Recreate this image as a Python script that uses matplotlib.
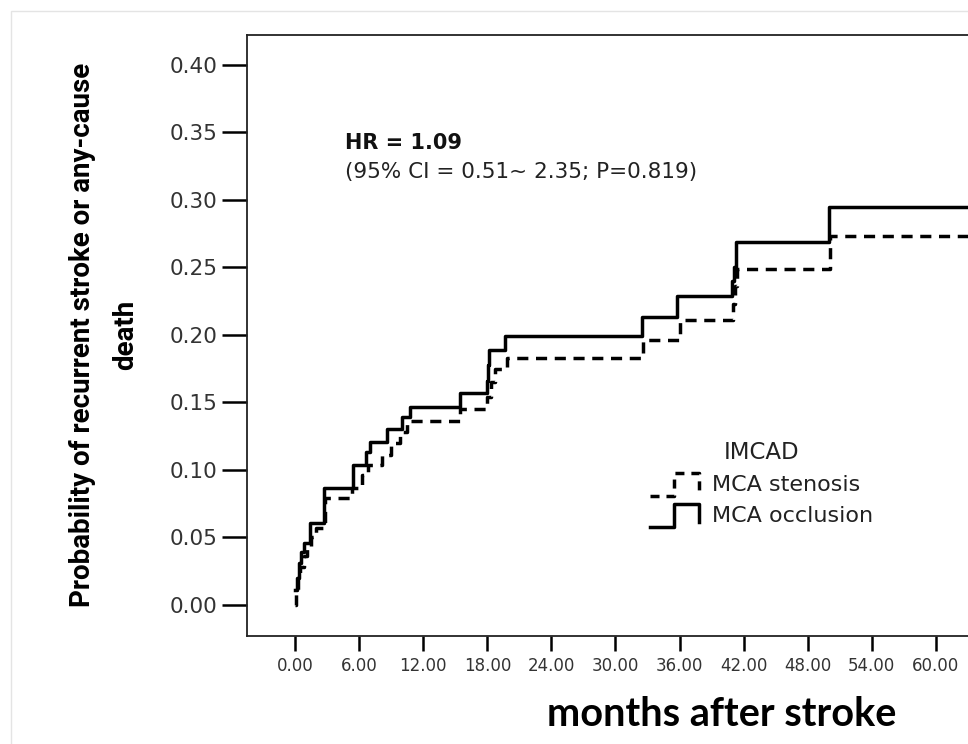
import matplotlib
matplotlib.use("Agg")
import matplotlib.pyplot as plt
from matplotlib.lines import Line2D
from matplotlib.patches import Rectangle
from matplotlib.legend_handler import HandlerBase

# Kaplan-Meier style cumulative event probability
occl_t = [0.0, 0.2, 0.4, 0.6, 0.8, 1.4, 2.7, 5.4, 6.6, 7.0, 8.6, 10.0, 10.8,
          15.4, 18.0, 18.1, 18.2, 19.7, 32.5, 35.8, 40.9, 41.1, 41.3, 50.0, 70.0]
occl_y = [0.011, 0.020, 0.031, 0.039, 0.046, 0.061, 0.087, 0.104, 0.113, 0.121,
          0.130, 0.139, 0.147, 0.157, 0.166, 0.178, 0.189, 0.199, 0.213, 0.229,
          0.240, 0.250, 0.269, 0.295, 0.295]

sten_t = [0.0, 0.1, 0.3, 0.5, 0.8, 1.1, 1.5, 2.0, 2.8, 5.3, 6.3, 6.8, 8.1, 9.0,
          9.8, 10.5, 15.4, 18.0, 18.3, 18.7, 19.8, 32.6, 36.0, 41.0, 41.2, 41.4,
          50.1, 70.0]
sten_y = [0.0, 0.011, 0.020, 0.028, 0.036, 0.043, 0.050, 0.057, 0.079, 0.087,
          0.096, 0.104, 0.111, 0.120, 0.128, 0.136, 0.145, 0.154, 0.165, 0.175,
          0.183, 0.196, 0.211, 0.223, 0.236, 0.249, 0.273, 0.273]

xticks = [0, 6, 12, 18, 24, 30, 36, 42, 48, 54, 60]
yticks = [0.00, 0.05, 0.10, 0.15, 0.20, 0.25, 0.30, 0.35, 0.40]


class StepHandler(HandlerBase):
    # legend key drawn as a small step, like the SPSS survival legend
    def create_artists(self, legend, orig_handle, xdescent, ydescent,
                       width, height, fontsize, trans):
        x0 = -xdescent
        y0 = -ydescent - 0.3 * height
        h = height * 1.45
        xs = [x0, x0 + 0.5 * width, x0 + 0.5 * width, x0 + width, x0 + width]
        ys = [y0, y0, y0 + h, y0 + h, y0 + 0.2 * h]
        ln = Line2D(xs, ys, color=orig_handle.get_color(),
                    linewidth=orig_handle.get_linewidth(), transform=trans)
        if orig_handle.get_linestyle() == "--":
            ln.set_dashes((2.6, 2.0))
        return [ln]


fig = plt.figure(figsize=(9.68, 7.44), dpi=100)
fig.patches.append(Rectangle((11 / 968, -0.1), 1.2, (744 - 11) / 744 + 0.1,
                             transform=fig.transFigure, fill=False,
                             edgecolor="#e4e4e4", linewidth=1.0))

ax = fig.add_axes([247 / 968, 108 / 744, 753 / 968, 601 / 744])
ax.set_xlim(-4.5, 66.0)
ax.set_ylim(-0.023, 0.4222)

h1, = ax.plot(sten_t, sten_y, drawstyle="steps-post", color="black",
              linewidth=2.5, linestyle="--", dashes=(3.2, 2.2),
              label="MCA stenosis")
h2, = ax.plot(occl_t, occl_y, drawstyle="steps-post", color="black",
              linewidth=2.5, label="MCA occlusion")

for s in ["left", "bottom", "top", "right"]:
    ax.spines[s].set_linewidth(1.3)
    ax.spines[s].set_color("#222222")

ax.set_xticks(xticks)
ax.set_xticklabels([f"{v:.2f}" for v in xticks], fontsize=12, color="#333333")
ax.set_yticks(yticks)
ax.set_yticklabels([f"{v:.2f}" for v in yticks], fontsize=15.5, color="#333333")
ax.tick_params(axis="y", direction="out", length=18, width=1.8, pad=3)
ax.tick_params(axis="x", direction="out", length=11, width=1.8, pad=4)

fig.text(345 / 968, 1 - 143 / 744, "HR = 1.09", fontsize=15,
         fontweight="bold", va="center", ha="left", color="#111111")
fig.text(345 / 968, 1 - 172 / 744, "(95% CI = 0.51~ 2.35; P=0.819)",
         fontsize=15.5, va="center", ha="left", color="#222222")

leg = ax.legend(handles=[h1, h2], title="IMCAD", loc="upper left",
                bbox_to_anchor=(641 / 968, 1 - 432 / 744),
                bbox_transform=fig.transFigure, frameon=False,
                fontsize=16, title_fontsize=16.5, handlelength=2.2,
                handletextpad=0.6, labelspacing=0.5, borderaxespad=0.0,
                handler_map={Line2D: StepHandler()})
for t in leg.get_texts():
    t.set_color("#222222")
leg.get_title().set_color("#222222")

fig.text(104 / 968, 1 - 335 / 744,
         "Probability of recurrent stroke or any-cause\ndeath",
         rotation=90, ha="center", va="center", multialignment="center",
         fontsize=20, fontweight="bold", linespacing=1.75,
         family=["Roboto", "DejaVu Sans"])
fig.text(722 / 968, 1 - 714 / 744, "months after stroke", ha="center",
         va="center", fontsize=28.5, fontweight="bold",
         family=["Lato", "DejaVu Sans"])

fig.savefig("out.png", dpi=100)
